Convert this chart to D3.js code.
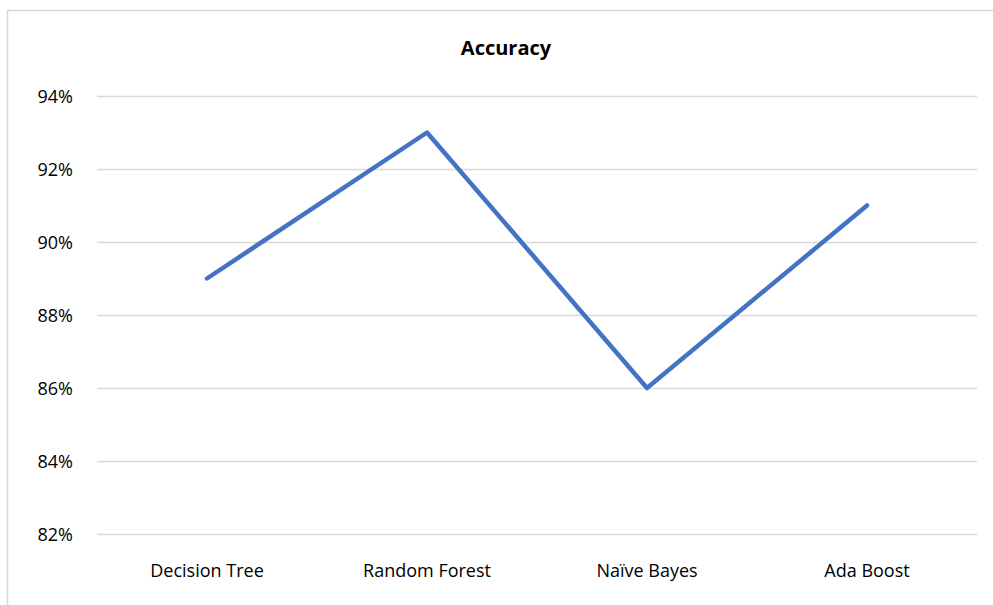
<!DOCTYPE html>
<html><head><meta charset="utf-8">
<script src="https://cdn.jsdelivr.net/npm/d3@7"></script>
<style>body{margin:0;background:#fff;} svg{display:block;}</style>
</head><body>
<svg id="chart" width="993" height="605"></svg>
<script>
const categories = ["Decision Tree", "Random Forest", "Naïve Bayes", "Ada Boost"];
const accuracy = [0.89, 0.93, 0.86, 0.91];
const yTicks = [0.82, 0.84, 0.86, 0.88, 0.90, 0.92, 0.94];
const title = "Accuracy";

const svg = d3.select("#chart");
const font = "'Open Sans', 'Noto Sans', 'Liberation Sans', sans-serif";

// chart border
svg.append("rect").attr("x", 7.5).attr("y", 10.5).attr("width", 1000).attr("height", 700)
  .attr("fill", "#fff").attr("stroke", "#d9d9d9").attr("stroke-width", 1.5);

const mLeft = 97, mRight = 977, mTop = 96, mBottom = 534;
const x = d3.scaleBand().domain(categories).range([mLeft, mRight]);
const y = d3.scaleLinear().domain([0.82, 0.94]).range([mBottom, mTop]);

const yAxis = d3.axisLeft(y).tickValues(yTicks).tickFormat(d3.format(".0%"))
  .tickSize(-(mRight - mLeft)).tickPadding(24);
const gy = svg.append("g").attr("transform", `translate(${mLeft},0)`).call(yAxis);
gy.select(".domain").remove();
gy.selectAll(".tick line").attr("stroke", "#d9d9d9").attr("stroke-width", 1.3);
gy.selectAll(".tick text").attr("font-family", font).attr("font-size", 18).attr("fill", "#000")
  .attr("dy", "0.35em");

const xAxis = d3.axisBottom(x).tickSize(0).tickPadding(30);
const gx = svg.append("g").attr("transform", `translate(0,${mBottom})`).call(xAxis);
gx.select(".domain").remove();
gx.selectAll(".tick text").attr("font-family", font).attr("font-size", 18).attr("fill", "#000");

const line = d3.line().x((d, i) => x(categories[i]) + x.bandwidth() / 2).y(d => y(d));
svg.append("path").datum(accuracy).attr("d", line).attr("fill", "none")
  .attr("stroke", "#4472C4").attr("stroke-width", 4.5).attr("stroke-linejoin", "round").attr("stroke-linecap", "round");

svg.append("text").attr("x", 506).attr("y", 55).attr("text-anchor", "middle")
  .attr("font-family", font).attr("font-size", 20).attr("font-weight", "bold").text(title);
</script>
</body></html>
